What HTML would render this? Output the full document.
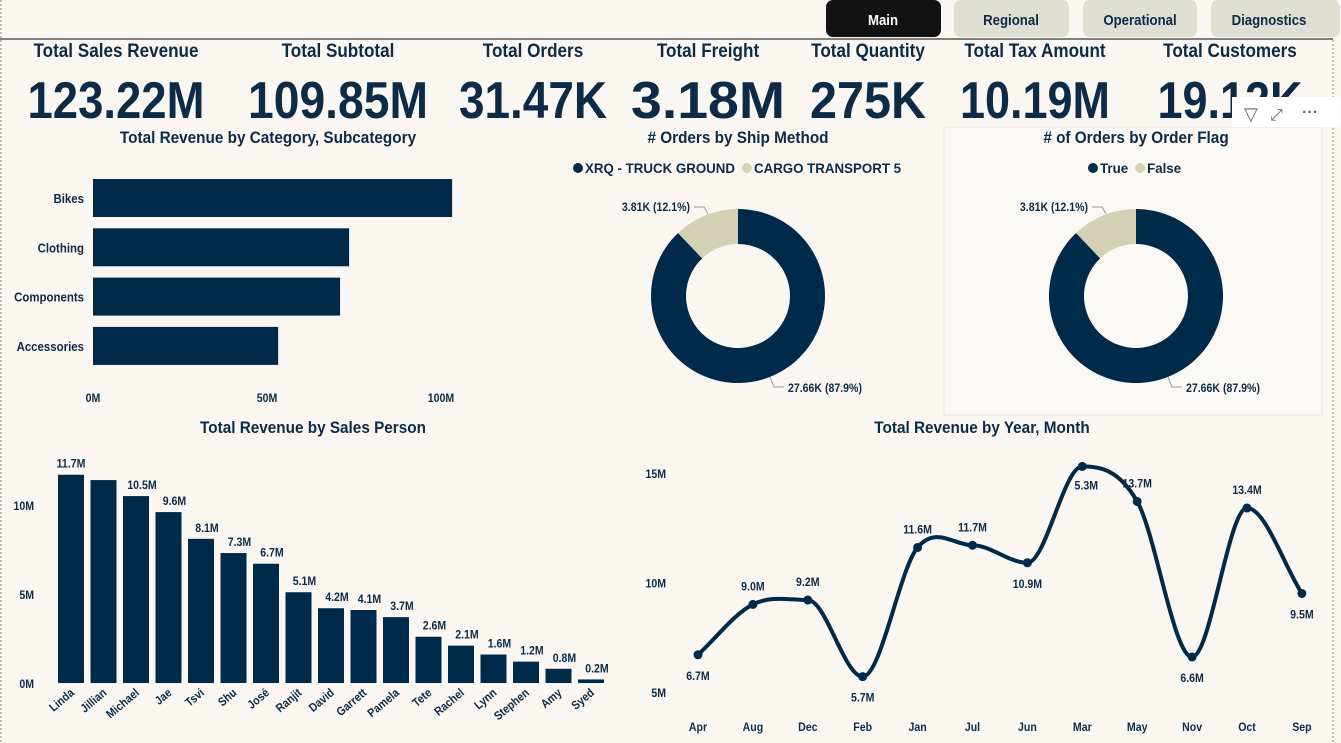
<!DOCTYPE html>
<html><head><meta charset="utf-8">
<style>
html,body{margin:0;padding:0;width:1341px;height:743px;overflow:hidden;background:#faf7f2;}
svg{display:block;font-family:"Liberation Sans",sans-serif;font-weight:bold;}
</style></head>
<body>
<svg id="s" width="1341" height="743" viewBox="0 0 1341 743" xmlns="http://www.w3.org/2000/svg">
<rect width="1341" height="743" fill="#faf7f2"/>
<line x1="1" y1="0" x2="1" y2="743" stroke="#888" stroke-dasharray="2,2"/>
<line x1="1333" y1="40" x2="1333" y2="743" stroke="#888" stroke-dasharray="2,2"/>
<line x1="0" y1="39" x2="1333" y2="39" stroke="#7f7f7f" stroke-width="2"/>
<g><rect x="826" y="0" width="115" height="37" rx="7" fill="#121212"/><text x="883" y="25" fill="#fff" font-size="15" text-anchor="middle">Main</text></g>
<g><rect x="954" y="0" width="115" height="37" rx="7" fill="#dedfd2"/><text x="1011" y="25" fill="#0d2a47" font-size="15" text-anchor="middle">Regional</text></g>
<g><rect x="1083" y="0" width="114" height="37" rx="7" fill="#dedfd2"/><text x="1140" y="25" fill="#0d2a47" font-size="15" text-anchor="middle">Operational</text></g>
<g><rect x="1211" y="0" width="129" height="37" rx="7" fill="#dedfd2"/><text x="1269" y="25" fill="#0d2a47" font-size="15" text-anchor="middle">Diagnostics</text></g>
<g id="kpis" fill="#0d2a47"></g>
<rect x="944" y="127" width="378" height="288" fill="#faf8f4" stroke="#ece9e3"/>
<g id="hbar"></g><g id="d1"></g><g id="d2"></g><g id="sp"></g><g id="ln"></g>
<g><rect x="1232" y="97" width="108" height="30" fill="#fff"/><text x="1244" y="120" font-size="18" fill="#666" font-weight="normal" class="keep">▽</text><text x="1270" y="120" font-size="16" fill="#666" font-weight="normal" class="keep">⤢</text><text x="1302" y="117" font-size="16" fill="#666" class="keep">···</text></g>
</svg>
<script>
const NS="http://www.w3.org/2000/svg",C="#002a4a",B="#d3d1b3",T="#0d2a47";
const kpiTitles=["Total Sales Revenue","Total Subtotal","Total Orders","Total Freight","Total Quantity","Total Tax Amount","Total Customers"];
const kpiValues=["123.22M","109.85M","31.47K","3.18M","275K","10.19M","19.12K"];
const catNames=["Bikes","Clothing","Components","Accessories"];
const catValues=[103.2,73.6,71.0,53.2];
const catTicks=[0,50,100];
const shipLegend=["XRQ - TRUCK GROUND","CARGO TRANSPORT 5"];
const flagLegend=["True","False"];
const donutValues=[27.66,3.81];
const donutLabels=["27.66K (87.9%)","3.81K (12.1%)"];
const spNames=["Linda","Jillian","Michael","Jae","Tsvi","Shu","José","Ranjit","David","Garrett","Pamela","Tete","Rachel","Lynn","Stephen","Amy","Syed"];
const spValues=[11.7,11.4,10.5,9.6,8.1,7.3,6.7,5.1,4.2,4.1,3.7,2.6,2.1,1.6,1.2,0.8,0.2];
const spTicks=[0,5,10];
const months=["Apr","Aug","Dec","Feb","Jan","Jul","Jun","Mar","May","Nov","Oct","Sep"];
const monthValues=[6.7,9.0,9.2,5.7,11.6,11.7,10.9,15.3,13.7,6.6,13.4,9.5];
const monthLabels=["6.7M","9.0M","9.2M","5.7M","11.6M","11.7M","10.9M","5.3M","13.7M","6.6M","13.4M","9.5M"];
const lnTicks=[5,10,15];
function el(tag,at,parent,txt){const e=document.createElementNS(NS,tag);for(const k in at)e.setAttribute(k,at[k]);if(txt!=null)e.textContent=txt;parent.appendChild(e);return e;}
const kg=document.getElementById('kpis');
const kx=[116,338,533,708,868,1035,1230];
const kw=[177,180,148,154,116,150,145];
kpiTitles.forEach((t,i)=>{
 const a=el('text',{x:kx[i],y:57,'font-size':19,'text-anchor':'middle'},kg,t);
 
 const b=el('text',{x:kx[i],y:118,'font-size':52,'text-anchor':'middle',textLength:kw[i],lengthAdjust:'spacingAndGlyphs',class:'keep'},kg,kpiValues[i]);
 
});
const hg=document.getElementById('hbar');
const hx=v=>93+v*3.48, hy=i=>198+i*49.3;
let t=el('text',{x:268,y:143,'font-size':17,'text-anchor':'middle',fill:T},hg,"Total Revenue by Category, Subcategory");

catTicks.forEach(v=>{const e=el('text',{x:hx(v),y:402,'font-size':12,'text-anchor':'middle',fill:T},hg,v+'M');});
catNames.forEach((n,i)=>{
 const r=el('rect',{x:hx(0),y:hy(i)-19,width:hx(catValues[i])-hx(0),height:38,fill:C},hg);
 
 const l=el('text',{x:84,y:hy(i)+5,'font-size':13,'text-anchor':'end',fill:T},hg,n);
 
});
function donut(g,cx,cy,title,legend,lx){
 let tt=el('text',{x:cx,y:143,'font-size':17,'text-anchor':'middle',fill:T},g,title);
 
 let x=lx;
 legend.forEach((n,i)=>{const c=el('circle',{cx:x+5,cy:168,r:5,fill:i?B:C},g);
  const tx=el('text',{x:x+12,y:173,'font-size':14,fill:T},g,n);
  const w=tx.getComputedTextLength()*0.95;tx.setAttribute('textLength',w);tx.setAttribute('lengthAdjust','spacingAndGlyphs');tx.setAttribute('class','keep');
  x+=w+19;});
 const tot=donutValues.reduce((a,b)=>a+b,0);let a0=0;const R=87,r=52;
 donutValues.forEach((v,i)=>{
  const a1=a0+v/tot*2*Math.PI;
  const p=(a,rr)=>[cx+rr*Math.sin(a),cy-rr*Math.cos(a)];
  const [x1,y1]=p(a0,R),[x2,y2]=p(a1,R),[x3,y3]=p(a1,r),[x4,y4]=p(a0,r);const lg=(a1-a0)>Math.PI?1:0;
  const s=el('path',{d:`M${x1},${y1}A${R},${R} 0 ${lg} 1 ${x2},${y2}L${x3},${y3}A${r},${r} 0 ${lg} 0 ${x4},${y4}Z`,fill:i?B:C},g);
  
  a0=a1;
 });
 const l1=el('polyline',{points:`${cx+32},${cy+81} ${cx+36},${cy+91} ${cx+46},${cy+91}`,fill:'none',stroke:'#999'},g);
 const t1=el('text',{x:cx+50,y:cy+96,'font-size':12,fill:T},g,donutLabels[0]);
 const l2=el('polyline',{points:`${cx-30},${cy-82} ${cx-34},${cy-89} ${cx-44},${cy-89}`,fill:'none',stroke:'#999'},g);
 const t2=el('text',{x:cx-48,y:cy-85,'font-size':12,fill:T,'text-anchor':'end'},g,donutLabels[1]);
}
donut(document.getElementById('d1'),738,296,"# Orders by Ship Method",shipLegend,573);
donut(document.getElementById('d2'),1136,296,"# of Orders by Order Flag",flagLegend,1088);
const sg=document.getElementById('sp');
const sx=i=>71+i*32.5, sy=v=>683-v*17.8;
t=el('text',{x:313,y:433,'font-size':17,'text-anchor':'middle',fill:T},sg,"Total Revenue by Sales Person");

spTicks.forEach(v=>{const e=el('text',{x:34,y:sy(v)+5,'font-size':12,'text-anchor':'end',fill:T},sg,v+'M');});
spNames.forEach((n,i)=>{
 const r=el('rect',{x:sx(i)-13,y:sy(spValues[i]),width:26,height:sy(0)-sy(spValues[i]),fill:C},sg);
 
 if(i!==1){const lb=el('text',{x:i===0?sx(i):sx(i)+6,y:sy(spValues[i])-7,'font-size':12,'text-anchor':'middle',fill:T},sg,spValues[i].toFixed(1)+'M');}
 const xl=el('text',{x:sx(i)+4,y:694,'font-size':12,'text-anchor':'end',fill:T,transform:`rotate(-40 ${sx(i)+4} 694)`},sg,n);
 
});
const lg=document.getElementById('ln');
const lx=i=>698+i*54.9, ly=v=>692-(v-5)*21.9;
t=el('text',{x:982,y:433,'font-size':17,'text-anchor':'middle',fill:T},lg,"Total Revenue by Year, Month");

lnTicks.forEach(v=>{const e=el('text',{x:666,y:ly(v)+5,'font-size':12,'text-anchor':'end',fill:T},lg,v+'M');});
const pts=monthValues.map((v,i)=>[lx(i),ly(v)]);
let d=`M${pts[0][0]},${pts[0][1]}`;
const n=pts.length,dx=54.9,sl=[],m=[];
for(let i=0;i<n-1;i++)sl.push((pts[i+1][1]-pts[i][1])/dx);
for(let i=0;i<n;i++){if(i===0)m.push(sl[0]);else if(i===n-1)m.push(sl[n-2]);else m.push(sl[i-1]*sl[i]<=0?0:(sl[i-1]+sl[i])/2);}
for(let i=0;i<n-1;i++){const p1=pts[i],p2=pts[i+1];
 d+=`C${p1[0]+dx/3},${p1[1]+m[i]*dx/3} ${p2[0]-dx/3},${p2[1]-m[i+1]*dx/3} ${p2[0]},${p2[1]}`;}
const path=el('path',{d,fill:'none',stroke:C,'stroke-width':4},lg);
const below=[1,0,0,1,0,0,1,0,0,1,0,1];
months.forEach((mm,i)=>{
 const c=el('circle',{cx:lx(i),cy:ly(monthValues[i]),r:4.5,fill:C},lg);
 const yy=below[i]?ly(monthValues[i])+25:ly(monthValues[i])-14;
 const lb=el('text',{x:lx(i)+(i===7?4:0),y:i===7?ly(monthValues[i])+23:yy,'font-size':12,'text-anchor':'middle',fill:T},lg,monthLabels[i]);
 const xl=el('text',{x:lx(i),y:731,'font-size':12,'text-anchor':'middle',fill:T},lg,mm);
});
document.querySelectorAll('#s text').forEach(tx=>{
 if(tx.getAttribute('class')==='keep')return;
 const w=tx.getComputedTextLength();
 const f=+tx.getAttribute('font-size')>=17?0.9:0.88;
 tx.setAttribute('textLength',w*f);tx.setAttribute('lengthAdjust','spacingAndGlyphs');
});
</script>
</body></html>
